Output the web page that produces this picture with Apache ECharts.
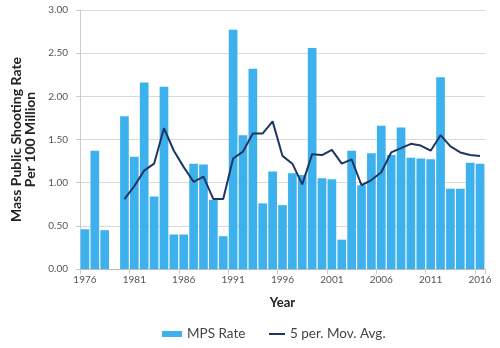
<!DOCTYPE html>
<html>
<head>
<meta charset="utf-8">
<script src="https://cdn.jsdelivr.net/npm/echarts@6/dist/echarts.min.js"></script>
<style>html,body{margin:0;padding:0;background:#fff}#c{width:500px;height:348px}</style>
</head>
<body>
<div id="c"></div>
<script>
var years = ['1976','1977','1978','1979','1980','1981','1982','1983','1984','1985','1986','1987','1988','1989','1990','1991','1992','1993','1994','1995','1996','1997','1998','1999','2000','2001','2002','2003','2004','2005','2006','2007','2008','2009','2010','2011','2012','2013','2014','2015','2016'];
var mpsRate = [0.46,1.37,0.45,null,1.77,1.30,2.16,0.84,2.11,0.40,0.40,1.22,1.21,0.80,0.38,2.77,1.55,2.32,0.76,1.13,0.74,1.11,1.09,2.56,1.05,1.04,0.34,1.37,0.97,1.34,1.66,1.32,1.64,1.29,1.28,1.27,2.22,0.93,0.93,1.23,1.22];
var movAvg = [null,null,null,null,0.81,0.96,1.14,1.22,1.63,1.37,1.18,1.01,1.07,0.81,0.81,1.28,1.36,1.57,1.57,1.71,1.31,1.22,0.98,1.33,1.32,1.38,1.22,1.27,0.97,1.03,1.12,1.35,1.40,1.45,1.43,1.37,1.55,1.42,1.35,1.32,1.31];
var yTicks = {min:0, max:3, interval:0.5};

var chart = echarts.init(document.getElementById('c'));
chart.setOption({
  animation:false,
  textStyle:{fontFamily:'Lato, "Open Sans", sans-serif'},
  grid:{left:80,right:15,top:10,bottom:79},
  legend:[{
    top:322, left:157, itemGap:4,
    textStyle:{color:'#444',fontSize:13.5},
    data:[{name:'MPS Rate',icon:'rect'}],
    itemWidth:20,itemHeight:6
  },{
    top:322, left:264, itemGap:4,
    textStyle:{color:'#444',fontSize:13.5},
    data:[{name:'5 per. Mov. Avg.',icon:'rect'}],
    itemWidth:16,itemHeight:2
  }],
  xAxis:{
    type:'category', data:years,
    axisLine:{lineStyle:{color:'#bbb'}},
    axisTick:{show:true,alignWithLabel:false,lineStyle:{color:'#ccc'}},
    axisLabel:{interval:4,color:'#555',fontSize:10,margin:6},
    name:'Year', nameLocation:'middle', nameGap:27,
    nameTextStyle:{fontWeight:'bold',fontSize:13,color:'#222'}
  },
  yAxis:{
    type:'value', min:yTicks.min, max:yTicks.max, interval:yTicks.interval,
    axisLine:{show:true,lineStyle:{color:'#ccc'}},
    axisTick:{show:true,length:4,lineStyle:{color:'#ccc'}},
    axisLabel:{color:'#555',fontSize:10,margin:12,formatter:function(v){return v.toFixed(2);}},
    splitLine:{lineStyle:{color:'#d9d9d9'}},
    name:'Mass Public Shooting Rate\nPer 100 Million', nameLocation:'middle', nameGap:43,
    nameTextStyle:{fontWeight:'bold',fontSize:14,color:'#222',lineHeight:14}
  },
  series:[
    {name:'MPS Rate',type:'bar',data:mpsRate,barCategoryGap:'12%',itemStyle:{color:'#3db1ee'}},
    {name:'5 per. Mov. Avg.',type:'line',data:movAvg,symbol:'none',lineStyle:{color:'#1f3660',width:2},itemStyle:{color:'#1f3660'}}
  ]
});
</script>
</body>
</html>
